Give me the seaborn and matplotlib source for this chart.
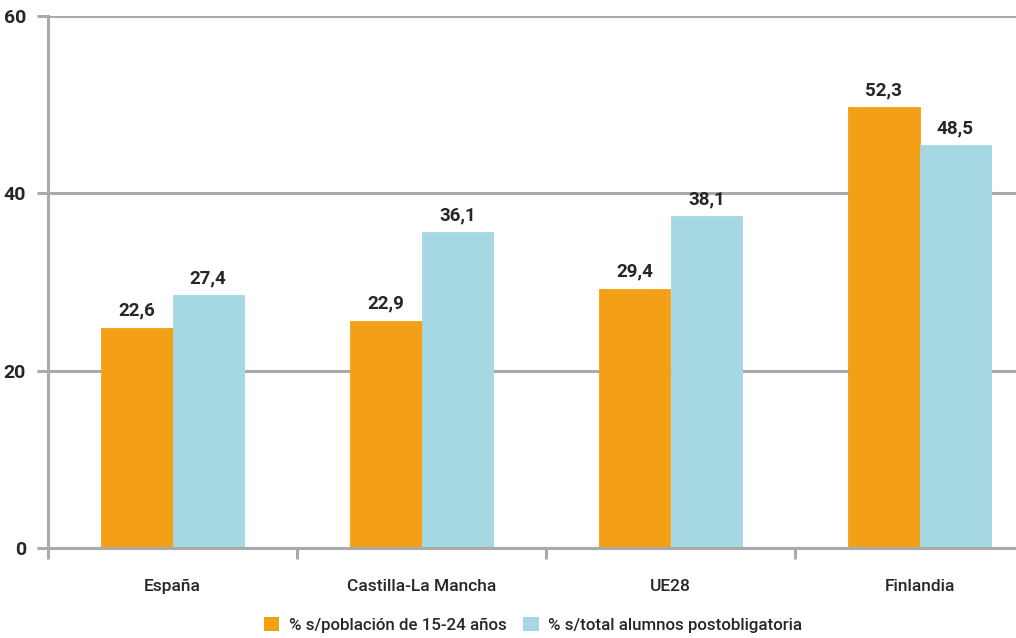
import matplotlib
matplotlib.use("Agg")
import matplotlib.pyplot as plt
import pandas as pd
import seaborn as sns

# data
regiones = ["España", "Castilla-La Mancha", "UE28", "Finlandia"]
series = ["% s/población de 15-24 años", "% s/total alumnos postobligatoria"]
# bar heights as drawn in the reference
poblacion = [24.8, 25.6, 29.2, 49.7]
alumnos = [28.5, 35.6, 37.4, 45.4]
# printed value labels
etiq_poblacion = ["22,6", "22,9", "29,4", "52,3"]
etiq_alumnos = ["27,4", "36,1", "38,1", "48,5"]

colores = ["#F4A017", "#A6D8E3"]
gris = "#AAAAAA"

df = pd.DataFrame({
    "region": regiones * 2,
    "serie": [series[0]] * 4 + [series[1]] * 4,
    "valor": poblacion + alumnos,
})

sns.set_theme(style="white")
plt.rcParams["font.family"] = ["Roboto", "DejaVu Sans"]

fig = plt.figure(figsize=(10.16, 6.38), dpi=100)
ax = fig.add_axes([48 / 1016, 90 / 638, 996 / 1016, 532 / 638])

sns.barplot(data=df, x="region", y="valor", hue="serie", palette=colores,
            width=0.575, saturation=1, linewidth=0, ax=ax,
            order=regiones, hue_order=series)

# close the hairline gap between the two bars of a group
for cont in ax.containers:
    for p in cont:
        p.set_edgecolor(p.get_facecolor())
        p.set_linewidth(0.6)

ax.set_xlim(-0.5, 3.5)
ax.set_ylim(0, 60)
ax.set_yticks([0, 20, 40, 60])
ax.yaxis.grid(True, color=gris, linewidth=2.2)
ax.set_axisbelow(True)

for s in ["top", "right"]:
    ax.spines[s].set_visible(False)
for s in ["left", "bottom"]:
    ax.spines[s].set_color(gris)
    ax.spines[s].set_linewidth(2.2)

ax.tick_params(axis="y", length=8, width=2.2, color=gris, left=True, pad=8,
               labelsize=14)
for t in ax.get_yticklabels():
    t.set_fontweight("bold")
ax.tick_params(axis="x", which="major", length=0, pad=22, labelsize=12.5)
for t in ax.get_xticklabels():
    t.set_fontweight("medium")
ax.set_xticks([-0.5, 0.5, 1.5, 2.5], minor=True)
ax.tick_params(axis="x", which="minor", length=8, width=2.2, color=gris,
               bottom=True, direction="out")
ax.set_xlabel("")
ax.set_ylabel("")

for cont, etiq in zip(ax.containers, [etiq_poblacion, etiq_alumnos]):
    ax.bar_label(cont, labels=etiq, padding=6, fontsize=13.5, fontweight="bold")

leg = ax.legend(loc="center", bbox_to_anchor=(533 / 1016, 13 / 638),
                bbox_transform=fig.transFigure, ncol=2, frameon=False,
                prop={"size": 12.2, "weight": "medium"}, handlelength=0.9,
                handleheight=0.9, columnspacing=1.0, handletextpad=0.55)

fig.savefig("out.png", dpi=100)
